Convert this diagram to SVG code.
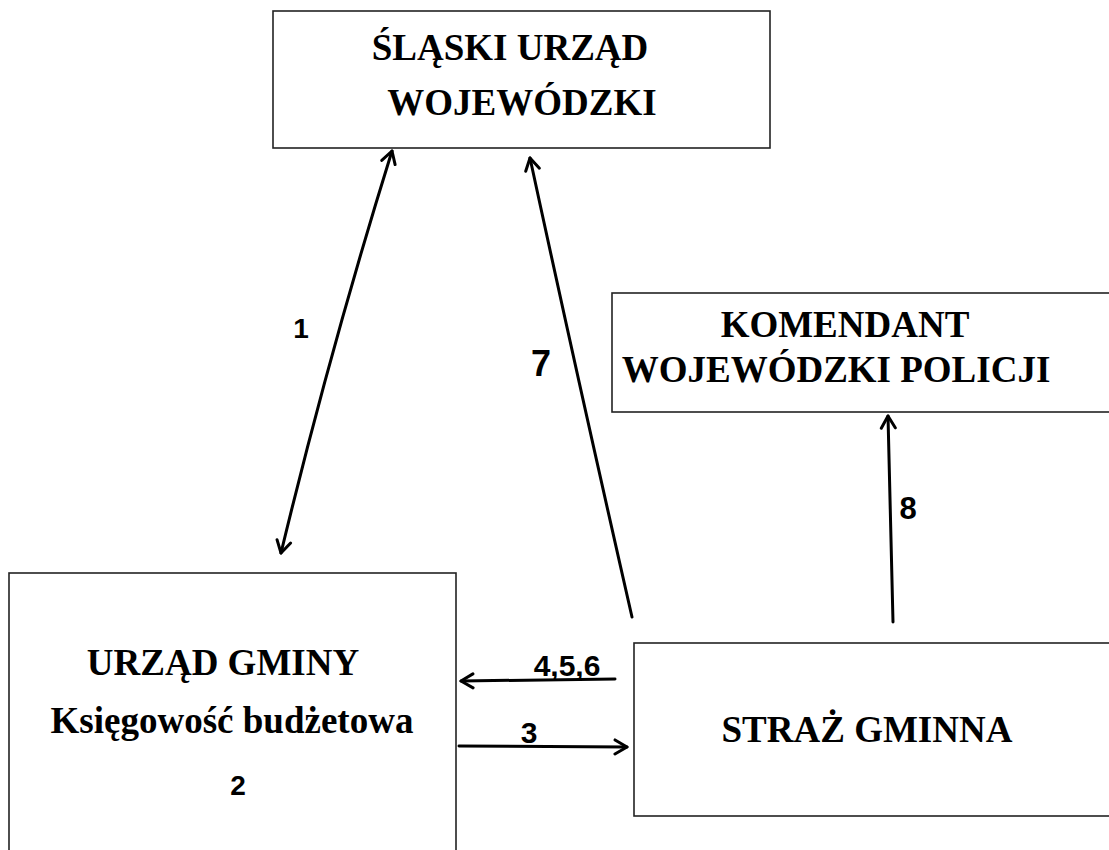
<svg xmlns="http://www.w3.org/2000/svg" width="1109" height="850" viewBox="0 0 1109 850">
<style>
.box{fill:#fff;stroke:#222;stroke-width:1.6}
.t{font-family:"Liberation Serif","Times New Roman",serif;font-weight:bold;font-size:37px;fill:#000;text-anchor:middle}
.lbl{font-family:"Liberation Sans",Arial,sans-serif;font-weight:bold;fill:#000;text-anchor:middle}
.c{fill:none;stroke:#000;stroke-width:3;stroke-linecap:round}
</style>
<defs>
<marker id="ah" markerUnits="userSpaceOnUse" markerWidth="18" markerHeight="18" viewBox="0 0 18 18" refX="15" refY="9" orient="auto-start-reverse">
<path d="M3,2 L15,9 L3,16" fill="none" stroke="#000" stroke-width="3" stroke-linecap="round" stroke-linejoin="round"/>
</marker>
</defs>
<rect width="1109" height="850" fill="#fff"/>
<g id="slaski-urzad">
<rect class="box" x="273" y="11" width="497" height="137"/>
<text class="t" x="510" y="60">ŚLĄSKI URZĄD</text>
<text class="t" x="522" y="115">WOJEWÓDZKI</text>
</g>
<g id="komendant">
<rect class="box" x="612" y="293" width="510" height="119"/>
<text class="t" x="845" y="337">KOMENDANT</text>
<text class="t" x="836" y="382">WOJEWÓDZKI POLICJI</text>
</g>
<g id="urzad-gminy">
<rect class="box" x="9" y="573" width="447" height="290"/>
<text class="t" x="223" y="675">URZĄD GMINY</text>
<text class="t" x="232" y="733">Księgowość budżetowa</text>
<text class="lbl" x="238" y="795" font-size="28">2</text>
</g>
<g id="straz-gminna">
<rect class="box" x="634" y="643" width="490" height="173"/>
<text class="t" x="867" y="742">STRAŻ GMINNA</text>
</g>
<g id="connectors">
<path class="c" d="M281,553 Q330,350 392,151" marker-start="url(#ah)" marker-end="url(#ah)"/>
<path class="c" d="M632,617 Q578,380 530,158" marker-end="url(#ah)"/>
<path class="c" d="M893,622 L888,416" marker-end="url(#ah)"/>
<path class="c" d="M615,679 L461,681" marker-end="url(#ah)"/>
<path class="c" d="M459,746 L627,747" marker-end="url(#ah)"/>
<text class="lbl" x="301" y="338" font-size="28">1</text>
<text class="lbl" x="541" y="376" font-size="36">7</text>
<text class="lbl" x="908" y="519" font-size="31">8</text>
<text class="lbl" x="567" y="676" font-size="30">4,5,6</text>
<text class="lbl" x="529" y="743" font-size="30">3</text>
</g>
</svg>
